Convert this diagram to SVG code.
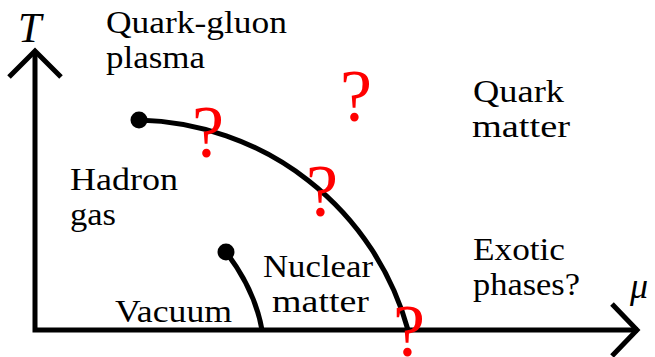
<svg xmlns="http://www.w3.org/2000/svg" width="655" height="357" viewBox="0 0 655 357">
<defs>
<style>
text{font-family:'Liberation Serif','DejaVu Serif',serif}
.lbl{font-size:32px;fill:#000}
.ax{font-style:italic;fill:#000}
.q{font-size:74px;fill:#ff0000;text-anchor:middle}
.ln{fill:none;stroke:#000;stroke-width:5}
</style>
</defs>
<rect width="655" height="357" fill="#fff"/>
<g id="connectors">
<path class="ln" d="M35,52 L35,330 L638,330" stroke-linejoin="miter"/>
<path class="ln" d="M9,77 L35,51 L61,77" stroke-linejoin="miter"/>
<path class="ln" d="M612,304 L637,330 L612,356" stroke-linejoin="miter"/>
<path class="ln" d="M139,120 A286,286 0 0 1 408,330"/>
<path class="ln" d="M226,252 Q255,290 262,330"/>
<circle cx="139" cy="120" r="8.5" fill="#000"/>
<circle cx="226" cy="252" r="8.5" fill="#000"/>
</g>
<g id="axis-T"><text class="ax" x="18" y="42" font-size="42">T</text></g>
<g id="axis-mu"><text class="ax" x="630" y="298" font-size="36">μ</text></g>
<g id="qgp"><text class="lbl" x="106" y="33" textLength="181" lengthAdjust="spacingAndGlyphs">Quark-gluon</text><text class="lbl" x="106" y="67.5" textLength="99" lengthAdjust="spacingAndGlyphs">plasma</text></g>
<g id="quark-matter"><text class="lbl" x="473" y="102" textLength="91" lengthAdjust="spacingAndGlyphs">Quark</text><text class="lbl" x="472" y="137" textLength="98" lengthAdjust="spacingAndGlyphs">matter</text></g>
<g id="hadron-gas"><text class="lbl" x="70" y="190" textLength="108" lengthAdjust="spacingAndGlyphs">Hadron</text><text class="lbl" x="70" y="225" textLength="46" lengthAdjust="spacingAndGlyphs">gas</text></g>
<g id="nuclear-matter"><text class="lbl" x="263" y="277" textLength="110" lengthAdjust="spacingAndGlyphs">Nuclear</text><text class="lbl" x="272" y="312" textLength="97" lengthAdjust="spacingAndGlyphs">matter</text></g>
<g id="vacuum"><text class="lbl" x="115" y="322" textLength="117" lengthAdjust="spacingAndGlyphs">Vacuum</text></g>
<g id="exotic"><text class="lbl" x="473" y="260" textLength="92" lengthAdjust="spacingAndGlyphs">Exotic</text><text class="lbl" x="473" y="295" textLength="107" lengthAdjust="spacingAndGlyphs">phases?</text></g>
<g id="question-marks">
<text class="q" x="208" y="157" textLength="32" lengthAdjust="spacingAndGlyphs">?</text>
<text class="q" x="356" y="121" textLength="32" lengthAdjust="spacingAndGlyphs">?</text>
<text class="q" x="322" y="216" textLength="32" lengthAdjust="spacingAndGlyphs">?</text>
<text class="q" x="409" y="356" textLength="32" lengthAdjust="spacingAndGlyphs">?</text>
</g>
</svg>
